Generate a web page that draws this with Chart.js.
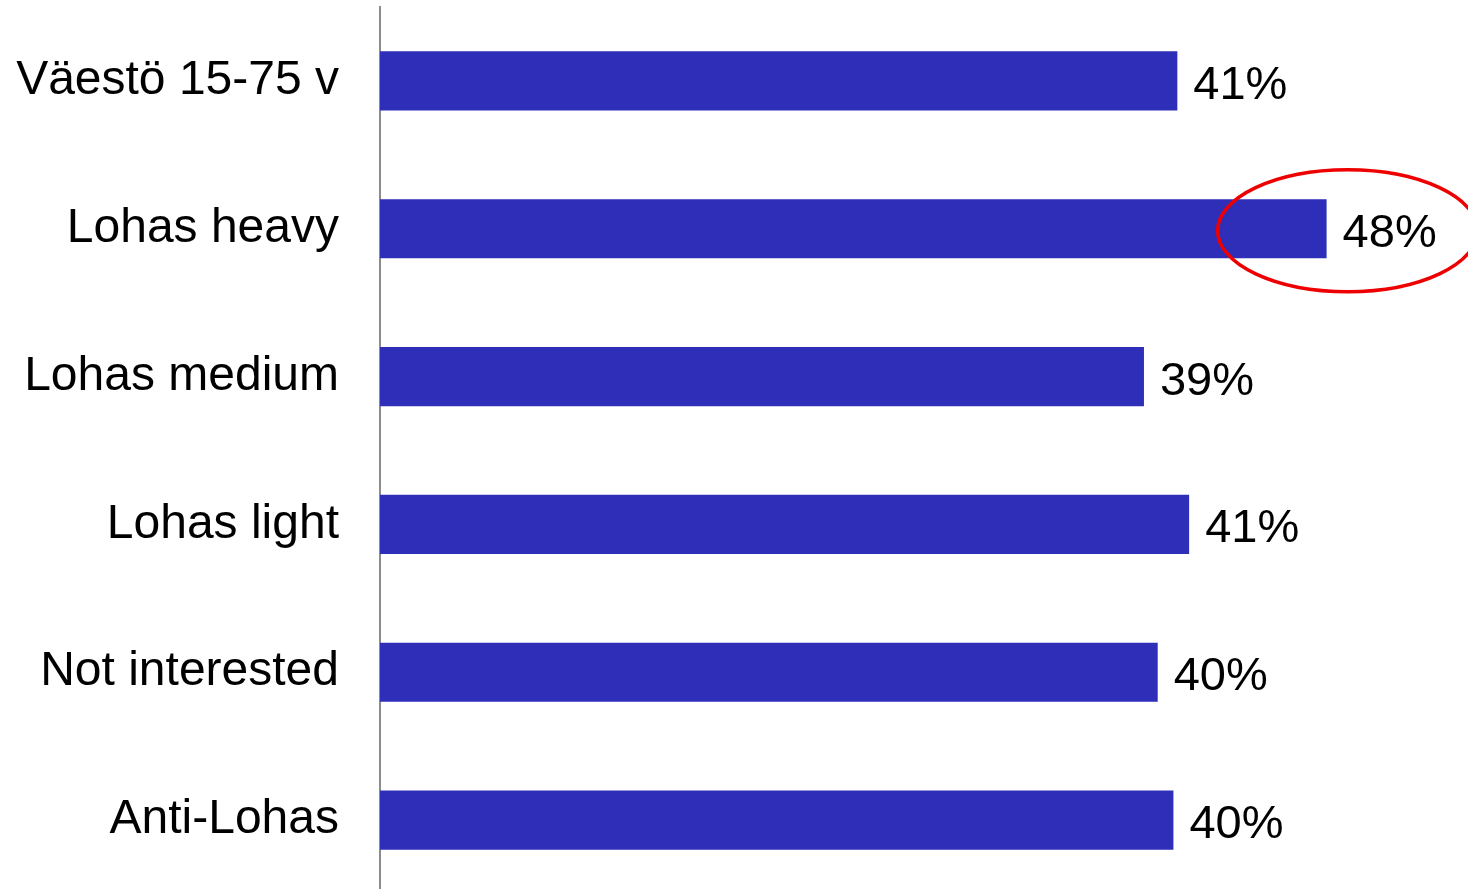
<!DOCTYPE html>
<html>
<head>
<meta charset="utf-8">
<script src="https://cdn.jsdelivr.net/npm/chart.js@4"></script>
<style>
  html, body { margin: 0; padding: 0; background: #fff; overflow: hidden; }
  #wrap { width: 1468px; height: 894px; }
</style>
</head>
<body>
<div id="wrap"><canvas id="barChart" width="1468" height="894"></canvas></div>
<script>
const categories = ["Väestö 15-75 v", "Lohas heavy", "Lohas medium", "Lohas light", "Not interested", "Anti-Lohas"];
const values = [40.6, 48.2, 38.9, 41.2, 39.6, 40.4];
const valueLabels = ["41%", "48%", "39%", "41%", "40%", "40%"];
const highlightIndex = 1;

const FONT = "'Liberation Sans', Arial, sans-serif";

// value text right of each bar
const valueLabelPlugin = {
  id: "valueLabels",
  afterDatasetsDraw(chart) {
    const ctx = chart.ctx;
    const meta = chart.getDatasetMeta(0);
    ctx.save();
    ctx.font = "47px " + FONT;
    ctx.fillStyle = "#000";
    ctx.textAlign = "left";
    ctx.textBaseline = "alphabetic";
    meta.data.forEach((bar, i) => {
      ctx.fillText(valueLabels[i], bar.x + 16, bar.y + 18);
    });
    ctx.restore();
  }
};

// red ellipse round the highlighted value
const highlightPlugin = {
  id: "highlight",
  afterDatasetsDraw(chart) {
    const bar = chart.getDatasetMeta(0).data[highlightIndex];
    const ctx = chart.ctx;
    ctx.save();
    ctx.strokeStyle = "#ee0000";
    ctx.lineWidth = 3.5;
    ctx.beginPath();
    ctx.ellipse(bar.x + 21, bar.y + 2, 130, 61, 0, 0, Math.PI * 2);
    ctx.stroke();
    ctx.restore();
  }
};

new Chart(document.getElementById("barChart"), {
  type: "bar",
  data: {
    labels: categories,
    datasets: [{
      data: values,
      backgroundColor: "#2e2eb8",
      borderWidth: 0,
      categoryPercentage: 1,
      barPercentage: 0.4
    }]
  },
  options: {
    indexAxis: "y",
    responsive: false,
    animation: false,
    devicePixelRatio: 1,
    layout: { padding: { top: 7, right: 0, bottom: 0, left: 0 } },
    plugins: {
      legend: { display: false },
      tooltip: { enabled: false }
    },
    scales: {
      x: {
        display: false,
        min: 0,
        max: 55.4
      },
      y: {
        afterFit(scale) {
          scale.width = 380;
          // tick padding should not push the plot down
          scale.paddingTop = 0;
          scale.paddingBottom = 0;
        },
        grid: { display: false, drawTicks: false },
        border: { display: true, color: "#8c8c8c", width: 2 },
        ticks: {
          padding: 41,
          color: "#000",
          font: { family: FONT, size: 48 }
        }
      }
    }
  },
  plugins: [valueLabelPlugin, highlightPlugin]
});
</script>
</body>
</html>
